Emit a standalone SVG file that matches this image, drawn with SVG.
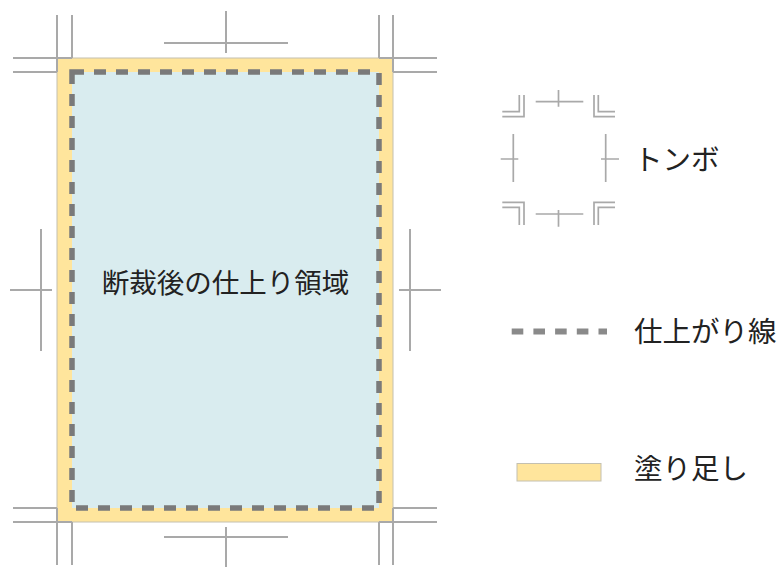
<svg xmlns="http://www.w3.org/2000/svg" width="783" height="567" viewBox="0 0 783 567">
<style>
.mark{fill:none;stroke:#a9a9a9;stroke-width:2;stroke-linecap:butt}
.lmark{fill:none;stroke:#a9a9a9;stroke-width:1.7;stroke-linecap:butt}
.bleed{fill:#ffe59c;stroke:#c4c0b0;stroke-width:1}
.trim{fill:#d9ecef}
.trimline{fill:none;stroke:#7a7a7a;stroke-width:5.5;stroke-dasharray:12 10}
.txt{font-family:"Noto Sans CJK JP","Noto Sans",sans-serif;fill:#222}
</style>
<rect width="783" height="567" fill="#ffffff"/>
<g id="bleed-area">
<rect class="bleed" x="57" y="58" width="336" height="464"/>
</g>
<g id="trim-area">
<rect class="trim" x="72" y="72" width="307" height="436"/>
<rect class="trimline" x="72" y="72" width="307" height="436"/>
<text class="txt" x="225.5" y="292.5" font-size="27.5" text-anchor="middle">断裁後の仕上り領域</text>
</g>
<g id="crop-marks" class="mark">
<path d="M57 15V72M13 72H57M72 15V58M13 58H72"/>
<path d="M379 15V58M379 58H437M393 15V72M393 72H437"/>
<path d="M13 508H57M57 508V565M13 522H72M72 522V565"/>
<path d="M393 508H437M393 508V565M379 522H437M379 522V565"/>
<path d="M164 43H288M226 11V53"/>
<path d="M164 537H288M226 527V567"/>
<path d="M41 229V351M10 290H52"/>
<path d="M410 229V351M399 290H441"/>
</g>
<g id="legend-tonbo">
<g class="lmark">
<path d="M519.3 95V111.7H502.3M524 95V116.7H502.3"/>
<path d="M598.3 95V111.7H615M594 95V116.7H615"/>
<path d="M535.7 101.7H583.3M558.5 90V106.7"/>
<path d="M513.3 134V182M500.7 159H518.3"/>
<path d="M605.7 134V182M601 159H619"/>
<path d="M502.3 202.3H524V225M502.3 207.3H519.3V225"/>
<path d="M615 202.3H594V225M615 207.3H598.3V225"/>
<path d="M535.7 214H583.3M558.5 210V226.7"/>
</g>
<text class="txt" x="634" y="170" font-size="28.5">トンボ</text>
</g>
<g id="legend-trimline">
<path d="M511.7 331.5H607" fill="none" stroke="#8a8a8a" stroke-width="6" stroke-dasharray="11.6 10.1"/>
<text class="txt" x="634" y="342" font-size="28.5">仕上がり線</text>
</g>
<g id="legend-bleed">
<rect class="bleed" x="517" y="463.5" width="84" height="17.5"/>
<text class="txt" x="634" y="479" font-size="28.5">塗り足し</text>
</g>
</svg>
